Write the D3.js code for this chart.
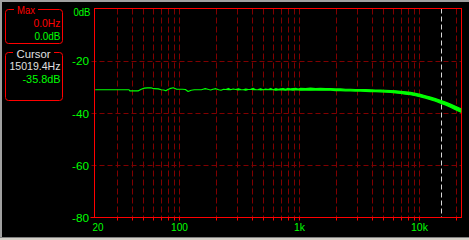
<!DOCTYPE html>
<html><head><meta charset="utf-8">
<script src="https://cdn.jsdelivr.net/npm/d3@7"></script>
<style>
html,body{margin:0;padding:0;background:#000;overflow:hidden;}
svg{display:block;}
text{font-family:"Liberation Sans",Arial,sans-serif;font-size:11.5px;}
</style></head>
<body>
<script>
// ---- data ----
const freqs = [20,25,30,38,38.5,45.5,48,51,54,58,61,66.6,70.4,74,77,80,83,88.7,94.8,100,106,112,118,125,133,143,152,160,166,175,182,190,201,212,222,233,244,256,267,280,294,309,324,340,357,374,392,412,432,453,475,498,523,549,576,604,633,664,697,731,767,805,844,885,928,975,1022,1124,1237,1362,1498,1649,1815,1998,2199,2420,2663,2931,3226,3550,3907,4300,4733,5209,5733,6309,6944,7642,8411,9256,10187,11212,12339,13580,14946,16449,18103,19924,21928,22050];
const dbUpper = [-31.1,-31.1,-31.1,-31.1,-31.5,-31.5,-30.9,-30.5,-30.35,-30.35,-30.7,-30.75,-31.1,-31.2,-31.5,-31.0,-30.7,-30.35,-30.9,-30.9,-30.9,-31.0,-31.75,-31.3,-31.1,-31.1,-31.1,-30.8,-30.7,-31.0,-31.2,-30.9,-30.7,-31.1,-31.3,-30.9,-31.0,-30.6,-31.1,-30.8,-31.0,-30.7,-31.0,-31.1,-30.8,-31.0,-30.9,-30.6,-31.1,-31.0,-30.7,-31.1,-30.8,-31.0,-30.6,-31.1,-30.7,-30.9,-30.8,-30.7,-30.9,-30.6,-30.8,-30.7,-30.6,-30.8,-30.6,-30.7,-30.5,-30.7,-30.6,-30.7,-30.7,-30.8,-30.8,-30.9,-30.9,-31.0,-31.0,-31.0,-31.1,-31.2,-31.2,-31.3,-31.4,-31.5,-31.7,-31.9,-32.1,-32.5,-32.9,-33.4,-33.9,-34.5,-35.1,-35.8,-36.6,-37.4,-38.3,-38.3];
const dbLower = [-31.1,-31.1,-31.1,-31.1,-31.5,-31.5,-30.9,-30.5,-30.35,-30.35,-30.7,-30.75,-31.1,-31.2,-31.5,-31.0,-30.7,-30.35,-30.9,-30.9,-30.9,-31.0,-31.75,-31.3,-31.1,-31.1,-31.1,-30.8,-30.7,-31.0,-31.2,-30.9,-30.7,-31.1,-31.3,-30.9,-31.0,-31.1,-31.1,-30.8,-31.0,-31.2,-31.0,-31.1,-31.3,-31.0,-30.9,-31.1,-31.1,-31.0,-31.2,-31.1,-31.1,-31.0,-31.1,-31.1,-31.3,-31.2,-31.1,-31.2,-31.3,-31.1,-31.2,-31.3,-31.1,-31.2,-31.3,-31.2,-31.3,-31.2,-31.3,-31.3,-31.3,-31.4,-31.4,-31.5,-31.5,-31.6,-31.6,-31.7,-31.8,-31.8,-31.9,-32.0,-32.1,-32.3,-32.5,-32.8,-33.0,-33.4,-33.8,-34.3,-34.9,-35.5,-36.2,-36.9,-37.8,-38.7,-39.6,-39.7];
const yTicks = [0,-20,-40,-60,-80];
const yTickLabels = ["0dB","-20","-40","-60","-80"];
const xLabelFreqs = [20,100,1000,10000];
const xTickLabels = ["20","100","1k","10k"];
const gridFreqs = [30,40,50,60,70,80,90,100,200,300,400,500,600,700,800,900,1000,2000,3000,4000,5000,6000,7000,8000,9000,10000,20000];
const cursorFreq = 15019.4;
const maxLabels = ["Max","0.0Hz","0.0dB"];
const cursorLabels = ["Cursor","15019.4Hz","-35.8dB"];

// ---- layout ----
const W = 469, H = 240;
const L = 94.5, R = 461.5, T = 8.5, B = 217.5;
const x = d3.scaleLog().domain([20, 22050]).range([95.6, 460.7]);
const y = d3.scaleLinear().domain([0, -80]).range([T, B]);

// pixel-font-like narrow text: fit each string to a width
const charW = {"0":6,"1":6,"2":6,"3":6,"4":6,"5":6,"6":6,"7":6,"8":6,"9":6,".":3,"-":6,"H":7,"z":6,"d":6,"B":6,"k":6,"M":7,"a":6,"x":6,"C":7,"u":6,"r":5,"s":6,"o":6};
const fitW = s => Array.from(s).reduce((a, c) => a + (charW[c] || 6), 0) - 1;

const svg = d3.select("body").append("svg").attr("width", W).attr("height", H);
svg.append("rect").attr("width", W).attr("height", H).attr("fill", "#000");
svg.append("rect").attr("x",0).attr("y",0).attr("width",W).attr("height",2).attr("fill","#a0a0a0");
svg.append("rect").attr("x",0).attr("y",0).attr("width",2).attr("height",H).attr("fill","#a0a0a0");
svg.append("rect").attr("x",0).attr("y",237).attr("width",W).attr("height",1).attr("fill","#808080");
svg.append("rect").attr("x",0).attr("y",238).attr("width",W).attr("height",2).attr("fill","#d4d0c8");

const gridCol = "#800000";
svg.append("g").selectAll("line").data(gridFreqs).join("line")
  .attr("x1", d => Math.round(x(d)) + 0.5).attr("x2", d => Math.round(x(d)) + 0.5)
  .attr("y1", T).attr("y2", B)
  .attr("stroke", gridCol).attr("stroke-width", 1).attr("stroke-dasharray", "6,3");
svg.append("g").selectAll("line").data(gridFreqs).join("line")
  .attr("x1", d => Math.round(x(d)) + 0.5).attr("x2", d => Math.round(x(d)) + 0.5)
  .attr("y1", B).attr("y2", B + 3)
  .attr("stroke", "#ff0000").attr("stroke-width", 1);
svg.append("g").selectAll("line").data(yTicks.slice(1, 4)).join("line")
  .attr("x1", L - 3).attr("x2", R)
  .attr("y1", d => Math.round(y(d)) + 0.5).attr("y2", d => Math.round(y(d)) + 0.5)
  .attr("stroke", gridCol).attr("stroke-width", 1).attr("stroke-dasharray", "5,3");

svg.append("line")
  .attr("x1", Math.round(x(cursorFreq)) + 0.5).attr("x2", Math.round(x(cursorFreq)) + 0.5)
  .attr("y1", T).attr("y2", B)
  .attr("stroke", "#d8d8d8").attr("stroke-width", 1).attr("stroke-dasharray", "5,3");

svg.append("rect").attr("x", L).attr("y", T).attr("width", R - L).attr("height", B - T)
  .attr("fill", "none").attr("stroke", "#ff0000").attr("stroke-width", 1);
svg.append("line").attr("x1", L - 4).attr("x2", L).attr("y1", B).attr("y2", B).attr("stroke", "#ff0000");

const pts = freqs.map((f, i) => ({f, hi: dbUpper[i], lo: dbLower[i]}));
const area = d3.area().x(d => x(d.f)).y0(d => y(d.lo)).y1(d => y(d.hi));
svg.append("path").datum(pts).attr("d", area)
  .attr("fill", "#00ff00").attr("stroke", "#00ff00").attr("stroke-width", 1.2).attr("stroke-linejoin", "round");

function label(s, px, py, anchor, color) {
  svg.append("text").attr("x", px).attr("y", py).attr("text-anchor", anchor).attr("fill", color)
    .attr("textLength", fitW(s)).attr("lengthAdjust", "spacingAndGlyphs").text(s);
}
yTicks.forEach((d, i) => label(yTickLabels[i], i === 0 ? 90.5 : 89, i === 0 ? 15.5 : y(d) + 4.5, "end", "#00ff00"));
xLabelFreqs.forEach((d, i) => label(xTickLabels[i], i === 0 ? x(d) - 3 : x(d), 231, i === 0 ? "start" : "middle", "#00ff00"));

function box(x0, y0, x1, y1, gapL, gapR, color) {
  const r = 3;
  const p = d3.path();
  p.moveTo(gapR, y0);
  p.lineTo(x1 - r, y0); p.arcTo(x1, y0, x1, y0 + r, r);
  p.lineTo(x1, y1 - r); p.arcTo(x1, y1, x1 - r, y1, r);
  p.lineTo(x0 + r, y1); p.arcTo(x0, y1, x0, y1 - r, r);
  p.lineTo(x0, y0 + r); p.arcTo(x0, y0, x0 + r, y0, r);
  p.lineTo(gapL, y0);
  svg.append("path").attr("d", p.toString()).attr("fill", "none").attr("stroke", color).attr("stroke-width", 1);
}
box(5.5, 9.5, 62.5, 43.5, 14, 38, "#ff0000");
box(5.5, 52.5, 62.5, 100.5, 13, 54, "#ff0000");

label(maxLabels[0], 26, 14, "middle", "#ff0000");
label(maxLabels[1], 60.5, 27, "end", "#ff0000");
label(maxLabels[2], 60.5, 39.5, "end", "#00ff00");
label(cursorLabels[0], 33.5, 57.5, "middle", "#e0e0e0");
label(cursorLabels[1], 60.5, 70, "end", "#e0e0e0");
label(cursorLabels[2], 60.5, 82.5, "end", "#00ff00");
</script>
</body></html>
